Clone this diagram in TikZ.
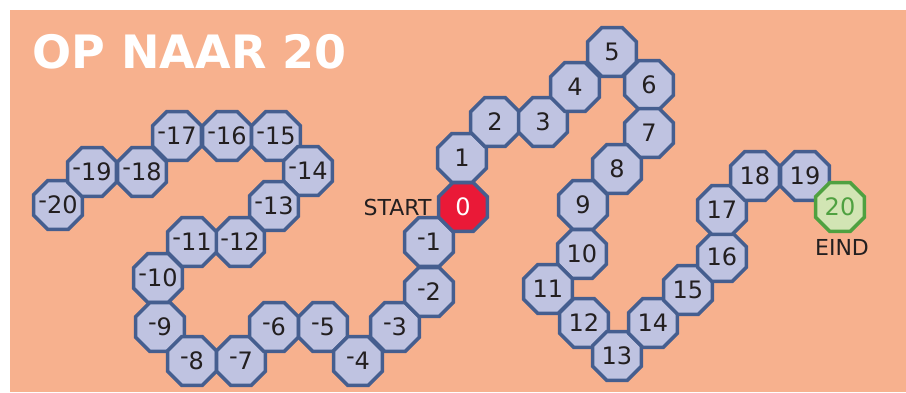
\documentclass[tikz,border=0pt]{standalone}
\usepackage{fontspec}
\setmainfont{DejaVu Sans}
\usetikzlibrary{shapes.geometric}
\definecolor{salmon}{HTML}{F7B18E}
\definecolor{navy}{HTML}{455E8F}
\definecolor{lavender}{HTML}{BFC3E1}
\definecolor{redfill}{HTML}{EA1937}
\definecolor{lightgreen}{HTML}{D2E5B4}
\definecolor{green}{HTML}{4FA140}
\definecolor{ink}{HTML}{231F20}
\newcommand{\negnum}[1]{\makebox[0pt]{\raisebox{0.2em}{-}#1}}

\begin{document}
\begin{tikzpicture}[x=1pt,y=-1pt]
\tikzset{cell/.style={regular polygon,regular polygon sides=8,minimum size=53pt,inner sep=0pt,draw=navy,line width=3.5pt,fill=lavender,text=ink,font=\fontsize{24}{24}\selectfont},
         startcell/.style={cell,fill=redfill,text=white},
         endcell/.style={cell,draw=green,fill=lightgreen,text=green},
         lbl/.style={text=ink,font=\fontsize{22}{22}\selectfont}}
\useasboundingbox (0,0) rectangle (906,392);
\fill[salmon] (10,10) rectangle (906,392);
\node[text=white,font=\fontsize{46}{46}\selectfont\bfseries,anchor=west] (title) at (29,52) {OP NAAR 20};
% negative side
\node[cell] (m20) at (58,205) {\negnum{20}};
\node[cell] (m19) at (92,172) {\negnum{19}};
\node[cell] (m18) at (142,172) {\negnum{18}};
\node[cell] (m17) at (177,136) {\negnum{17}};
\node[cell] (m16) at (227,136) {\negnum{16}};
\node[cell] (m15) at (276,136) {\negnum{15}};
\node[cell] (m14) at (308,171) {\negnum{14}};
\node[cell] (m13) at (274,206) {\negnum{13}};
\node[cell] (m12) at (240,242) {\negnum{12}};
\node[cell] (m11) at (192,242) {\negnum{11}};
\node[cell] (m10) at (158,278) {\negnum{10}};
\node[cell] (m9) at (160,327) {\negnum{9}};
\node[cell] (m8) at (192,361) {\negnum{8}};
\node[cell] (m7) at (241,361) {\negnum{7}};
\node[cell] (m6) at (274,327) {\negnum{6}};
\node[cell] (m5) at (323,327) {\negnum{5}};
\node[cell] (m4) at (358,361) {\negnum{4}};
\node[cell] (m3) at (395,327) {\negnum{3}};
\node[cell] (m2) at (429,292) {\negnum{2}};
\node[cell] (m1) at (429,242) {\negnum{1}};
% positive side
\node[startcell] (p0) at (463,207) {0};
\node[cell] (p1) at (462,158) {1};
\node[cell] (p2) at (495,122) {2};
\node[cell] (p3) at (543,122) {3};
\node[cell] (p4) at (575,87) {4};
\node[cell] (p5) at (612,52) {5};
\node[cell] (p6) at (649,85) {6};
\node[cell] (p7) at (649,133) {7};
\node[cell] (p8) at (617,169) {8};
\node[cell] (p9) at (583,205) {9};
\node[cell] (p10) at (582,254) {10};
\node[cell] (p11) at (548,289) {11};
\node[cell] (p12) at (584,323) {12};
\node[cell] (p13) at (617,356) {13};
\node[cell] (p14) at (653,323) {14};
\node[cell] (p15) at (688,290) {15};
\node[cell] (p16) at (722,257) {16};
\node[cell] (p17) at (722,210) {17};
\node[cell] (p18) at (755,176) {18};
\node[cell] (p19) at (805,176) {19};
\node[endcell] (p20) at (840,207) {20};
\node[lbl,anchor=east] (start) at (435,207) {START};
\node[lbl] (eind) at (842,247) {EIND};
\end{tikzpicture}
\end{document}
